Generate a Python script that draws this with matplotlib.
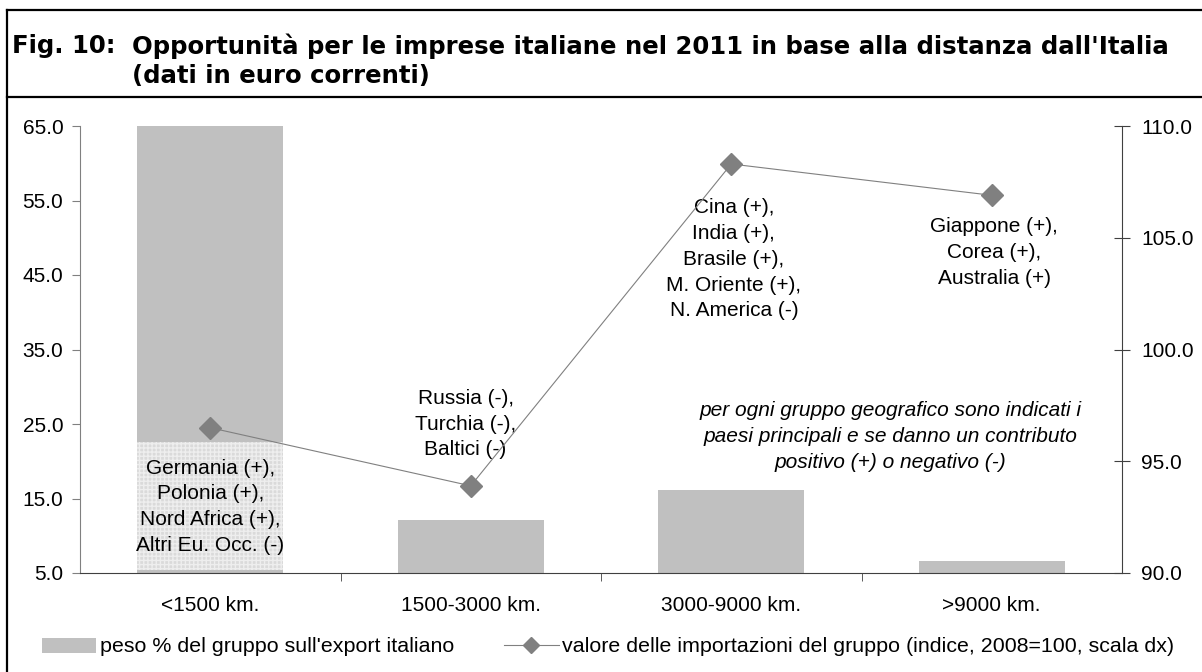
import matplotlib
matplotlib.use("Agg")
import matplotlib.pyplot as plt
from matplotlib.lines import Line2D
from matplotlib.patches import Patch, Rectangle
from matplotlib.ticker import FormatStrFormatter, FixedLocator

# ---------------- data ----------------
categories = ["<1500 km.", "1500-3000 km.", "3000-9000 km.", ">9000 km."]
export_share = [65.0, 12.1, 16.1, 6.6]          # left axis (bars)
import_index = [96.5, 93.9, 108.3, 106.9]       # right axis (line)
group_notes = [
    "Germania (+),\nPolonia (+),\nNord Africa (+),\nAltri Eu. Occ. (-)",
    "Russia (-),\nTurchia (-),\nBaltici (-)",
    "Cina (+),\nIndia (+),\nBrasile (+),\nM. Oriente (+),\nN. America (-)",
    "Giappone (+),\nCorea (+),\nAustralia (+)",
]
note_pos = [(0.0, 13.9), (0.98, 25.0), (2.01, 47.1), (3.01, 48.0)]
italic_note = ("per ogni gruppo geografico sono indicati i\n"
               "paesi principali e se danno un contributo\n"
               "positivo (+) o negativo (-)")
title_prefix = "Fig. 10:  "
title_l1 = "Opportunità per le imprese italiane nel 2011 in base alla distanza dall'Italia"
title_l2 = "(dati in euro correnti)"
leg_bar = "peso % del gruppo sull'export italiano"
leg_line = "valore delle importazioni del gruppo (indice, 2008=100, scala dx)"
left_ticks = [5, 15, 25, 35, 45, 55, 65]
right_ticks = [90, 95, 100, 105, 110]

W, H = 1202, 672
fig = plt.figure(figsize=(W / 100, H / 100), dpi=100)
plt.rcParams['font.family'] = ['Liberation Sans', 'DejaVu Sans']
FS = 15
LFS = 15.4
TFS = 17.6

AX_L, AX_R, AX_T, AX_B = 80, 1122, 126, 573
ax = fig.add_axes([AX_L / W, 1 - AX_B / H, (AX_R - AX_L) / W, (AX_B - AX_T) / H])
x = list(range(len(categories)))
ax.bar(x, [v - 5 for v in export_share], bottom=5, width=0.56, color="#c0c0c0", zorder=1)
ax.set_xlim(-0.5, 3.5)
ax.set_ylim(5, 65)
ax.yaxis.set_major_locator(FixedLocator(left_ticks))
ax.yaxis.set_major_formatter(FormatStrFormatter("%.1f"))
ax.tick_params(axis='y', direction='out', length=6, color="#808080", labelsize=FS, pad=6)
ax.set_xticks(x)
ax.set_xticklabels(categories, fontsize=FS)
ax.tick_params(axis='x', which='major', length=0, pad=16.5)
ax.set_xticks([0.5, 1.5, 2.5], minor=True)
ax.tick_params(axis='x', which='minor', direction='out', length=6, color="#404040")
for s in ['top', 'right']:
    ax.spines[s].set_visible(False)
ax.spines['left'].set_color("#808080")
ax.spines['bottom'].set_color("#404040")

# stippled text box over the lower part of the first bar
ax.add_patch(Rectangle((-0.28, 5.35), 0.56, 22.6 - 5.35, facecolor="#dadada",
                       edgecolor="#eeeeee", hatch="++++", linewidth=0, zorder=2))

ax2 = ax.twinx()
ax2.plot(x, import_index, color="#808080", linewidth=0.8, marker="D",
         markersize=11, markerfacecolor="#808080", markeredgecolor="#808080", zorder=3)
ax2.set_ylim(90, 110)
ax2.yaxis.set_major_locator(FixedLocator(right_ticks))
ax2.yaxis.set_major_formatter(FormatStrFormatter("%.1f"))
ax2.tick_params(axis='y', direction='inout', length=12, color="#404040", labelsize=FS, pad=8)
for s in ['top', 'left', 'bottom']:
    ax2.spines[s].set_visible(False)
ax2.spines['right'].set_color("#404040")

for txt, (px, py) in zip(group_notes, note_pos):
    ax.text(px, py, txt, ha='center', va='center', fontsize=FS, linespacing=1.45, zorder=5)
ax.text(2.61, 23.3, italic_note, ha='center', va='center', fontsize=FS,
        style='italic', linespacing=1.45, zorder=5)

# title
t0 = fig.text(12 / W, 1 - 46 / H, title_prefix, fontsize=TFS, fontweight='bold',
              family='DejaVu Sans', va='center', ha='left')
fig.canvas.draw()
bb = t0.get_window_extent()
x_ind = bb.x1 / W
fig.text(x_ind, 1 - 46 / H, title_l1, fontsize=TFS, fontweight='bold',
         family='DejaVu Sans', va='center', ha='left')
fig.text(x_ind, 1 - 76 / H, title_l2, fontsize=TFS, fontweight='bold',
         family='DejaVu Sans', va='center', ha='left')

# frame lines
lw = 1.6
fig.add_artist(Line2D([7 / W, 7 / W], [0, 1 - 10 / H], color='black', lw=lw))
fig.add_artist(Line2D([7 / W, 1], [1 - 10 / H, 1 - 10 / H], color='black', lw=lw))
fig.add_artist(Line2D([7 / W, 1], [1 - 97 / H, 1 - 97 / H], color='black', lw=lw))

# legend
handles = [Patch(facecolor="#c0c0c0", edgecolor='none'),
           Line2D([], [], color="#808080", lw=0.8, marker="D", markersize=8,
                  markerfacecolor="#808080", markeredgecolor="#808080")]
fig.legend(handles, [leg_bar, leg_line], loc='center', bbox_to_anchor=(608 / W, 1 - 647 / H),
           ncol=2, frameon=False, fontsize=LFS, handlelength=2.55, handletextpad=0.15,
           columnspacing=2.35, borderpad=0, borderaxespad=0)

fig.savefig("out.png", dpi=100)
